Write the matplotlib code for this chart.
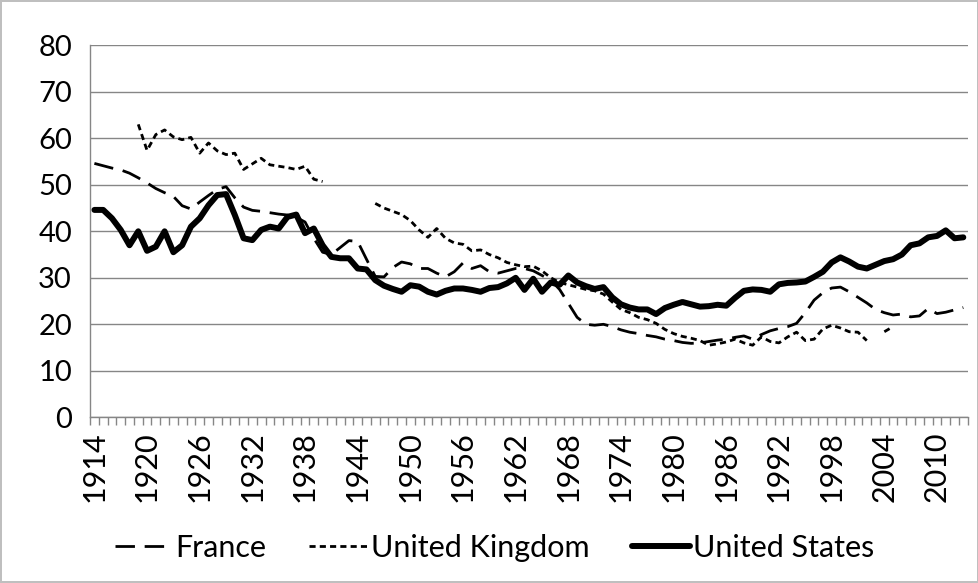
import numpy as np
import matplotlib
matplotlib.use("Agg")
import matplotlib.pyplot as plt

plt.rcParams['font.family'] = ['Lato', 'DejaVu Sans']

nan = np.nan
years = list(range(1914, 2014))

# France
france = [54.6, 54.1, 53.6, 53.2, 52.5, 51.5, 50.4, 49.2, 48.3, 47.5,
          45.5, 44.8, 46.3, 47.7, 49.0, 49.6, 47.2, 45.2, 44.5, 44.3,
          44.0, 43.7, 43.5, 43.0, 42.0, 38.5, 35.5, 35.0, 36.5, 38.0,
          37.8, 34.0, 30.3, 30.2, 32.2, 33.4, 33.0, 32.0, 32.0, 31.0,
          30.2, 31.3, 33.2, 32.0, 32.6, 31.3, 31.0, 31.5, 32.0, 32.0,
          31.5, 30.5, 29.5, 27.5, 24.5, 21.5, 20.0, 19.8, 20.0, 19.5,
          18.8, 18.3, 18.0, 17.6, 17.3, 16.8, 16.5, 16.1, 15.9, 16.0,
          16.3, 16.6, 16.8, 17.2, 17.5, 16.8, 17.8, 18.6, 19.1, 19.5,
          20.2, 22.5, 25.2, 26.8, 27.8, 28.0, 27.0, 25.8, 24.6, 23.2,
          22.5, 22.0, 22.2, 21.6, 21.8, 23.4, 22.3, 22.6, 23.1, 23.6]

# United Kingdom
uk = [nan, nan, nan, nan, nan, 63.0, 57.4, 60.8, 61.8, 60.3,
      59.7, 60.2, 56.8, 59.0, 57.3, 56.5, 56.8, 53.3, 54.5, 55.7,
      54.3, 54.0, 53.7, 53.3, 54.0, 51.2, 50.7, nan, nan, nan,
      nan, nan, 46.0, 45.0, 44.3, 43.6, 42.3, 40.3, 38.7, 40.6,
      38.5, 37.5, 37.2, 35.8, 36.0, 35.0, 34.3, 33.3, 32.8, 32.4,
      32.5, 31.5, 30.0, 29.0, 28.5, 28.0, 27.5, 27.2, 26.5, 24.8,
      23.2, 22.5, 21.5, 21.0, 20.2, 18.9, 18.0, 17.4, 17.0, 16.5,
      15.5, 15.8, 16.2, 16.8, 16.0, 15.5, 17.3, 16.3, 16.0, 17.3,
      18.3, 16.5, 16.8, 19.0, 19.8, 19.2, 18.4, 18.3, 16.5, nan,
      18.4, 19.5, nan, nan, nan, nan, nan, nan, nan, nan]

# United States
us = [44.6, 44.6, 42.8, 40.3, 37.0, 40.0, 35.8, 36.7, 40.0, 35.5,
      37.0, 41.0, 42.8, 45.6, 47.8, 48.0, 43.5, 38.5, 38.1, 40.3,
      41.0, 40.6, 43.1, 43.6, 39.6, 40.6, 37.0, 34.5, 34.2, 34.2,
      32.0, 31.8, 29.5, 28.3, 27.6, 27.0, 28.4, 28.1, 27.0, 26.4,
      27.2, 27.7, 27.7, 27.4, 27.0, 27.8, 28.0, 28.8, 30.0, 27.4,
      29.8, 27.0, 29.0, 28.5, 30.5, 29.0, 28.2, 27.6, 28.0, 25.8,
      24.3, 23.6, 23.2, 23.2, 22.2, 23.5, 24.2, 24.8, 24.3, 23.8,
      23.9, 24.2, 24.0, 25.7, 27.2, 27.5, 27.4, 27.0, 28.6, 28.9,
      29.0, 29.2, 30.2, 31.3, 33.3, 34.4, 33.5, 32.4, 32.0, 32.8,
      33.6, 34.0, 35.0, 37.0, 37.4, 38.7, 39.0, 40.2, 38.5, 38.7]

fig = plt.figure(figsize=(9.79, 5.83), dpi=100)
fig.patch.set_edgecolor('#bfbfbf')
fig.patch.set_linewidth(1.5)
ax = fig.add_axes([90 / 979, 1 - 417.3 / 583, 877.7 / 979, 372 / 583])

ax.plot(years, france, color='black', lw=2.0, dashes=(7, 3.5), label='France')
ax.plot(years, uk, color='black', lw=2.0, dashes=(2.2, 1.5), label='United Kingdom')
ax.plot(years, us, color='black', lw=4.3, solid_capstyle='round',
        solid_joinstyle='round', label='United States')

ax.set_xlim(1913.5, 2013.5)
ax.set_ylim(0, 80)
ax.set_yticks(range(0, 81, 10))
ax.yaxis.grid(True, color='#868686', lw=1)
ax.set_axisbelow(True)
ax.tick_params(axis='y', length=0, labelsize=21, pad=13)

ax.set_xticks(years[::6])
ax.set_xticklabels([str(y) for y in years[::6]], rotation=90, fontsize=22)
ax.set_xticks(np.arange(1913.5, 2014, 1), minor=True)
ax.tick_params(axis='x', which='major', length=0, pad=10)
ax.tick_params(axis='x', which='minor', length=6, color='#868686', width=1)

for s in ['top', 'right']:
    ax.spines[s].set_visible(False)
for s in ['left', 'bottom']:
    ax.spines[s].set_color('#868686')
    ax.spines[s].set_linewidth(1)

fig.legend(loc='center', bbox_to_anchor=(0.505, 35 / 583), ncol=3, frameon=False,
           fontsize=22, handlelength=1.9, columnspacing=1.4, handletextpad=0.1)

fig.savefig('out.png', dpi=100, edgecolor=fig.get_edgecolor())
